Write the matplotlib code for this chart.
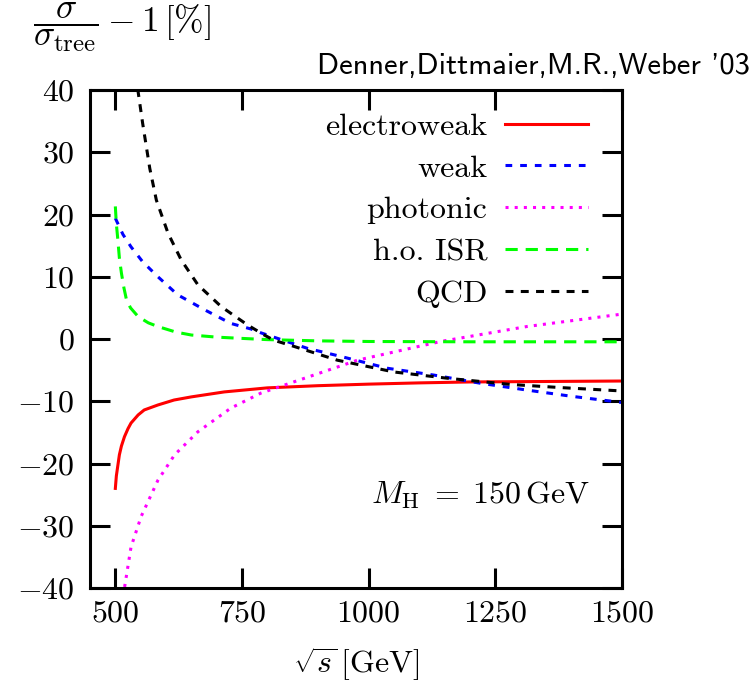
import matplotlib
matplotlib.use("Agg")
import matplotlib.pyplot as plt
import numpy as np

plt.rcParams['mathtext.fontset'] = 'cm'
plt.rcParams['font.family'] = 'cmr10'
plt.rcParams['axes.formatter.use_mathtext'] = True
plt.rcParams['axes.unicode_minus'] = True

# ---- data ----
ew_x = [500, 502, 505, 508, 512, 518, 525, 531, 545, 557, 584, 616, 650, 715, 800, 900, 1000, 1100, 1200, 1300, 1400, 1500]
ew_y = [-24.0, -22.0, -20.3, -18.6, -17.2, -15.7, -14.4, -13.5, -12.2, -11.4, -10.6, -9.8, -9.3, -8.5, -7.85, -7.5, -7.25, -7.05, -6.9, -6.85, -6.8, -6.75]

weak_x = [500, 515, 531, 554, 584, 623, 676, 728, 768, 787, 879, 945, 1037, 1129, 1220, 1312, 1400, 1500]
weak_y = [19.4, 16.8, 14.8, 12.4, 10.0, 7.1, 4.7, 2.5, 1.6, 1.0, -1.5, -2.8, -4.7, -5.8, -7.1, -8.2, -9.2, -10.2]

phot_x = [500, 510, 518, 531, 551, 584, 617, 663, 728, 787, 978, 1142, 1312, 1500]
phot_y = [-53.0, -45.5, -40.0, -33.4, -28.5, -22.7, -18.6, -14.9, -11.1, -8.7, -3.4, -0.4, 2.0, 4.0]

isr_x = [500, 502, 505, 508, 512, 517, 522, 530, 545, 565, 584, 620, 650, 700, 734, 800, 900, 1000, 1200, 1500]
isr_y = [21.3, 18.5, 15.9, 13.0, 10.6, 8.2, 6.3, 5.0, 3.6, 2.6, 2.0, 1.1, 0.64, 0.3, 0.16, -0.1, -0.3, -0.4, -0.45, -0.45]

qcd_x = [535, 545, 554, 568, 581, 604, 630, 663, 709, 761, 794, 813, 853, 938, 1050, 1155, 1280, 1378, 1500]
qcd_y = [45.0, 39.7, 34.6, 27.4, 22.3, 17.0, 12.7, 8.7, 5.2, 2.25, 0.64, -0.2, -1.2, -3.4, -5.3, -6.3, -7.3, -7.8, -8.35]

labels = ['electroweak', 'weak', 'photonic', 'h.o. ISR', 'QCD']
xticks = [500, 750, 1000, 1250, 1500]
yticks = [-40, -30, -20, -10, 0, 10, 20, 30, 40]

# ---- figure ----
fig = plt.figure(figsize=(7.54, 6.88), dpi=100)
ax = fig.add_axes([90/754, 1-588/688, 532/754, 498/688])

lw = 2.2
ax.plot(ew_x, ew_y, color='#ff0000', lw=lw, label=labels[0])
ax.plot(weak_x, weak_y, color='#0000ff', lw=lw, dashes=(2.2, 2.6), label=labels[1])
ax.plot(phot_x, phot_y, color='#ff00ff', lw=lw, dashes=(1.0, 2.0), label=labels[2])
ax.plot(isr_x, isr_y, color='#00ff00', lw=lw, dashes=(4.0, 2.6), label=labels[3])
ax.plot(qcd_x, qcd_y, color='black', lw=lw, dashes=(2.6, 2.4), label=labels[4])

ax.set_xlim(450, 1500)
ax.set_ylim(-40, 40)
ax.set_xticks(xticks)
ax.set_yticks(yticks)
for s in ax.spines.values():
    s.set_linewidth(2.2)
ax.tick_params(direction='in', length=14.4, width=2.2, top=True, right=True, labelsize=23)
ax.tick_params(axis='y', pad=11)
ax.tick_params(axis='x', pad=9)

leg = ax.legend(loc='upper right', bbox_to_anchor=(0.936, 0.955), markerfirst=False,
                frameon=False, handlelength=2.6, handletextpad=0.55, labelspacing=0.42,
                borderpad=0, borderaxespad=0, prop={'family': 'cmr10', 'size': 23})

ax.text(0.94, 0.187, r'$M_{\rm H}\;=\;150\,{\rm GeV}$', transform=ax.transAxes,
        ha='right', va='center', fontsize=23)

fig.text(356/754, 1-664/688, r'$\sqrt{s}\,[\mathrm{GeV}]$', ha='center', va='center', fontsize=23)
fig.text(33/754, 1-27/688, r'$\dfrac{\sigma}{\sigma_{\rm tree}} - 1\,[\%]$', ha='left', va='center', fontsize=25.5)
fig.text(750/754, 1-74/688, "Denner,Dittmaier,M.R.,Weber '03", ha='right', va='baseline',
         fontsize=22, family='cmss10')

fig.savefig('out.png', dpi=100)
